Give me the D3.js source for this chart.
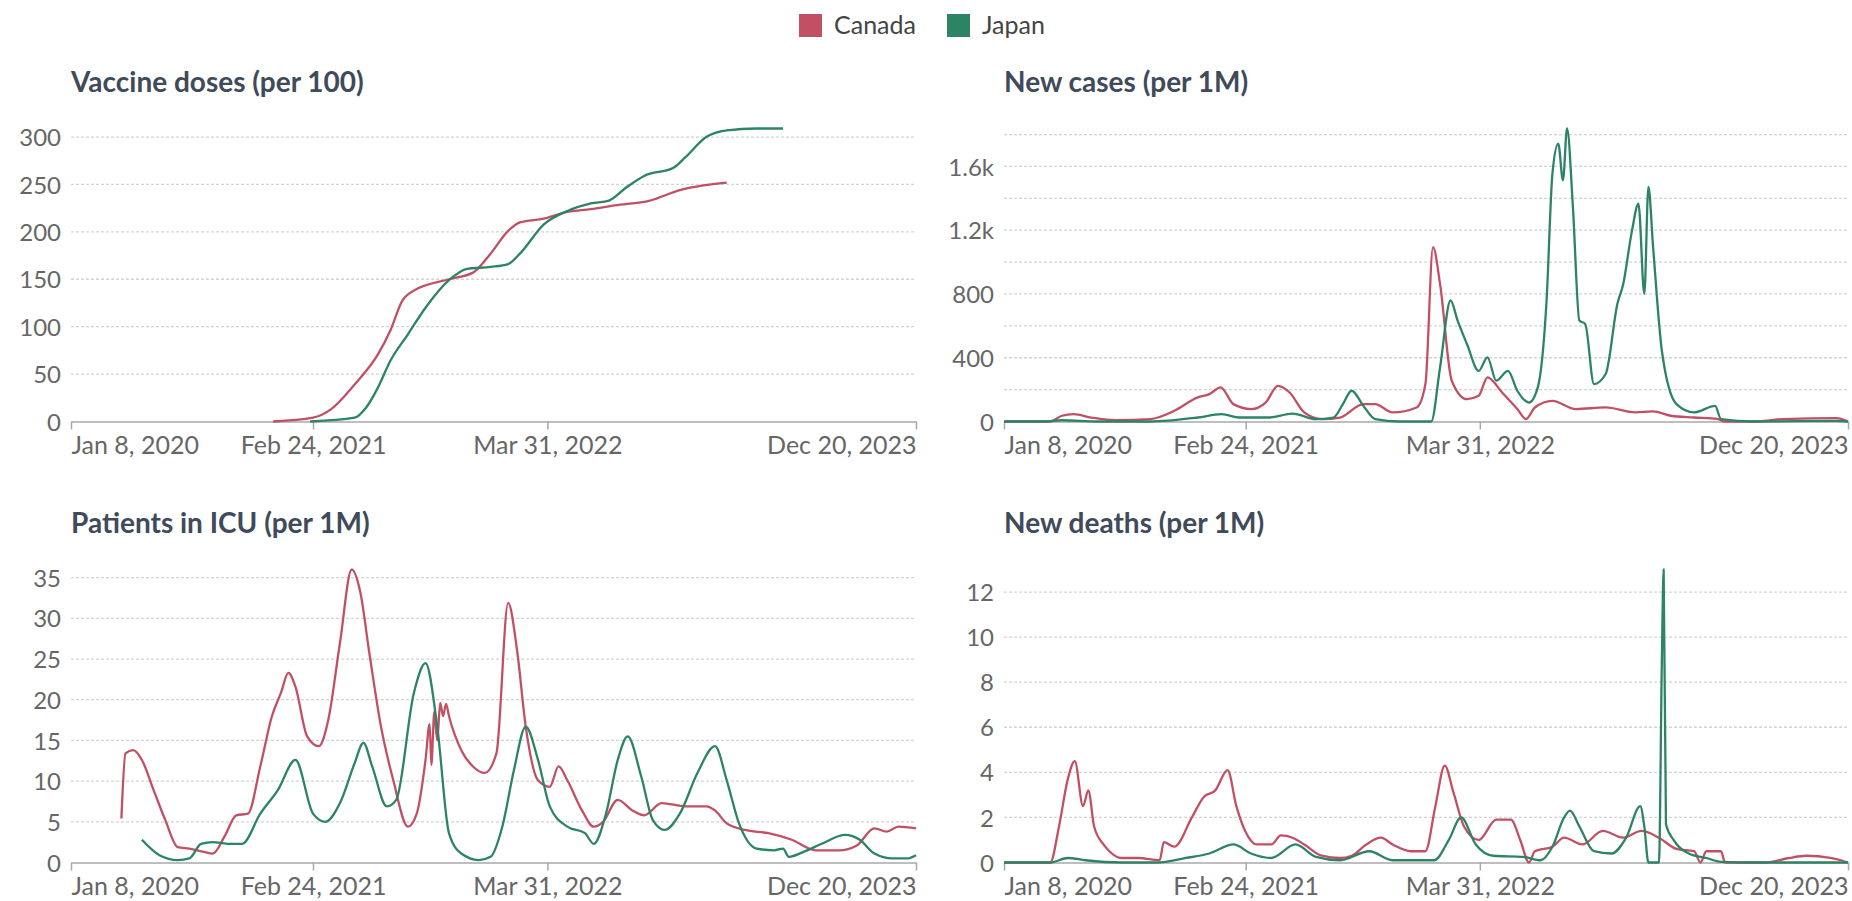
<!DOCTYPE html>
<html>
<head>
<meta charset="utf-8">
<script src="https://cdn.jsdelivr.net/npm/d3@7"></script>
<style>
  body { margin: 0; background: #fff; }
  svg { font-family: Lato, "Noto Sans", sans-serif; }
  .grid line { stroke: #d4d4d4; stroke-width: 1.3; stroke-dasharray: 3,2; }
  .ylab { fill: #666; font-size: 24px; }
  .xlab { fill: #666; font-size: 25px; }
  .title { fill: #3f4a5a; font-size: 28px; font-weight: 700; }
</style>
</head>
<body>
<div id="chart"></div>
<script>
var svgWidth = 1852;
var svgHeight = 901;

// x values are days since Jan 8, 2020
var startDate = new Date(2020, 0, 8);
var countries = ["Canada", "Japan"];
var colors = ["#c15065", "#2c8465"];

var dateTicks = ["2020-01-08", "2021-02-24", "2022-03-31", "2023-12-20"];
var dateTickLabels = ["Jan 8, 2020", "Feb 24, 2021", "Mar 31, 2022", "Dec 20, 2023"];

var vaccineTicks = [0, 50, 100, 150, 200, 250, 300];
var vaccineTickLabels = ["0", "50", "100", "150", "200", "250", "300"];
var casesTicks = [0, 200, 400, 600, 800, 1000, 1200, 1400, 1600, 1800];
var casesTickLabels = ["0", "", "400", "", "800", "", "1.2k", "", "1.6k", ""];
var icuTicks = [0, 5, 10, 15, 20, 25, 30, 35];
var icuTickLabels = ["0", "5", "10", "15", "20", "25", "30", "35"];
var deathsTicks = [0, 2, 4, 6, 8, 10, 12];
var deathsTickLabels = ["0", "2", "4", "6", "8", "10", "12"];

var canadaVaccine = [[345,0],[413,4],[444,13],[484,39],[524,71],[545,96],[565,127],[585,138],[645,150],
  [686,157],[716,177],[746,201],[766,210],[807,214],[847,221],[887,224],[928,228],[988,233],[1039,244],
  [1079,249],[1119,252]];
var japanVaccine = [[408,0],[484,4],[504,15],[524,36],[545,64],[575,92],[605,120],[645,149],[676,161],
  [716,163],[746,166],[766,177],[807,208],[847,222],[887,230],[918,233],[948,247],[978,259],[1029,268],
  [1049,279],[1084,300],[1119,307],[1170,309],[1215,309]];

var canadaCases = [[0,0],[79,0],[99,36],[119,46],[149,25],[190,8],[250,15],[291,67],[331,151],[351,172],
  [370,214],[392,109],[422,78],[447,119],[468,224],[488,182],[513,57],[543,15],[574,25],[614,109],[634,109],
  [664,57],[705,88],[720,235],[733,1094],[745,863],[765,256],[791,140],[811,161],[826,277],[851,182],
  [877,78],[892,15],[907,88],[937,130],[977,78],[1028,88],[1078,57],[1109,63],[1139,36],[1179,25],
  [1220,15],[1230,0],[1280,0],[1331,15],[1422,21],[1442,0]];
var japanCases = [[0,0],[69,0],[99,8],[160,0],[250,0],[331,25],[372,46],[402,25],[452,25],[493,50],
  [533,15],[563,25],[579,109],[594,193],[614,98],[634,15],[675,0],[730,0],[745,339],[763,759],[775,633],
  [791,486],[811,318],[826,402],[841,256],[861,318],[877,193],[897,119],[912,214],[927,759],[937,1555],
  [947,1743],[955,1513],[962,1838],[972,1345],[983,633],[993,612],[1008,235],[1028,298],[1048,738],
  [1058,863],[1073,1199],[1084,1366],[1094,800],[1101,1471],[1109,1094],[1124,444],[1149,109],[1179,57],
  [1215,98],[1225,15],[1280,0],[1422,4],[1442,0]];

var canadaIcu = [[86,5.4],[93,13.4],[106,13.8],[121,12.6],[141,8.9],[161,5.2],[182,1.9],[202,1.7],
  [227,1.3],[242,1.1],[262,3.2],[282,5.8],[302,6.0],[323,11.8],[343,18.0],[358,20.8],[371,23.3],[383,21.6],
  [403,15.5],[423,14.3],[439,17.5],[459,27.0],[479,36.0],[494,33.1],[509,25.8],[529,16.7],[550,10.1],
  [575,4.4],[590,6.0],[605,12.6],[612,17],[615,12],[620,18.5],[625,15],[630,19.6],[635,18],[640,19.5],
  [645,18.0],[666,13.8],[686,11.8],[706,11.0],[726,13.4],[746,31.9],[761,26.2],[776,16.7],[797,10.1],
  [817,9.3],[832,11.8],[847,10.1],[872,6.4],[892,4.4],[908,5.0],[933,7.7],[958,6.4],[978,5.8],[1008,7.3],
  [1049,6.9],[1084,6.9],[1099,6.4],[1119,4.8],[1150,4.0],[1190,3.6],[1230,2.8],[1271,1.5],[1311,1.5],
  [1341,2.1],[1371,4.2],[1392,3.8],[1412,4.4],[1442,4.2]];
var japanIcu = [[121,2.8],[151,0.9],[182,0.3],[202,0.5],[222,2.3],[242,2.5],[267,2.3],[292,2.3],[323,6.0],
  [353,8.9],[383,12.6],[413,6.0],[434,5.0],[459,7.3],[484,12.2],[499,14.7],[514,11.8],[539,6.9],[555,7.7],
  [585,20.8],[605,24.5],[625,16.7],[645,3.6],[666,1.1],[696,0.3],[716,0.7],[736,4.4],[756,11.4],[776,16.7],
  [797,12.6],[817,6.9],[847,4.4],[877,3.6],[892,2.3],[913,6.0],[933,12.6],[950,15.5],[973,10.6],[993,5.2],
  [1013,4.0],[1039,6.0],[1069,11.0],[1099,14.3],[1119,10.1],[1140,4.8],[1170,1.7],[1200,1.5],[1215,1.7],
  [1225,0.7],[1250,1.3],[1281,2.3],[1321,3.4],[1346,2.8],[1371,1.1],[1402,0.5],[1427,0.5],[1442,0.9]];

var canadaDeaths = [[0,0],[79,0],[94,1.6],[109,3.7],[121,4.5],[135,2.5],[144,3.2],[154,1.6],[170,0.8],
  [180,0.5],[200,0.2],[230,0.2],[266,0.1],[273,0.9],[291,0.7],[321,2.0],[341,2.9],[361,3.2],[382,4.1],
  [397,2.5],[412,1.4],[432,0.8],[457,0.8],[473,1.2],[493,1.1],[513,0.8],[543,0.3],[574,0.2],[594,0.3],
  [619,0.8],[644,1.1],[664,0.8],[695,0.5],[720,0.5],[737,2.5],[753,4.3],[768,3.1],[786,1.6],[811,1.0],
  [841,1.9],[866,1.9],[882,1.0],[897,0],[907,0.5],[937,0.7],[957,1.1],[988,0.8],[1023,1.4],[1058,1.1],
  [1089,1.4],[1119,1.1],[1149,0.6],[1179,0.5],[1190,0],[1200,0.5],[1225,0.5],[1232,0],[1301,0],[1341,0.2],
  [1371,0.3],[1412,0.2],[1430,0.1],[1442,0]];
var japanDeaths = [[0,0],[79,0],[109,0.2],[139,0.1],[200,0],[261,0],[311,0.2],[351,0.4],[392,0.8],
  [422,0.4],[457,0.2],[498,0.8],[533,0.25],[574,0.1],[624,0.5],[664,0.1],[735,0.1],[760,1.0],[781,2.0],
  [806,0.8],[836,0.3],[887,0.25],[917,0.1],[937,0.7],[957,2.0],[967,2.3],[983,1.6],[1008,0.5],[1038,0.4],
  [1063,1.1],[1087,2.5],[1094,1.6],[1101,0],[1119,0],[1124,9.0],[1127,13.0],[1131,1.7],[1144,1.0],
  [1170,0.4],[1200,0.2],[1225,0.03],[1280,0],[1442,0]];

var panels = [
  {title: "Vaccine doses (per 100)", series: [canadaVaccine, japanVaccine], ticks: vaccineTicks,
   labels: vaccineTickLabels, left: 71, right: 916, base: 421.5, top: 128.5},
  {title: "New cases (per 1M)", series: [canadaCases, japanCases], ticks: casesTicks,
   labels: casesTickLabels, left: 1004, right: 1848, base: 421.5, top: 128.5},
  {title: "Patients in ICU (per 1M)", series: [canadaIcu, japanIcu], ticks: icuTicks,
   labels: icuTickLabels, left: 71, right: 916, base: 862.5, top: 569.5},
  {title: "New deaths (per 1M)", series: [canadaDeaths, japanDeaths], ticks: deathsTicks,
   labels: deathsTickLabels, left: 1004, right: 1848, base: 862.5, top: 569.5}
];

var svg = d3.select("#chart")
  .append("svg")
  .attr("width", svgWidth)
  .attr("height", svgHeight);

var parseDate = d3.timeParse("%Y-%m-%d");
var toDate = function(d) { return d3.timeDay.offset(startDate, d); };

// legend
var legend = svg.append("g");
var legendX = [799, 947];
countries.forEach(function(c, i) {
  legend.append("rect")
    .attr("x", legendX[i]).attr("y", 14)
    .attr("width", 23).attr("height", 23)
    .attr("fill", colors[i]);
  legend.append("text")
    .attr("x", legendX[i] + 35).attr("y", 34)
    .attr("fill", "#444")
    .attr("font-size", "25px")
    .text(c);
});

panels.forEach(function(p) {
  var g = svg.append("g");

  var xScale = d3.scaleTime()
    .domain([startDate, parseDate(dateTicks[dateTicks.length - 1])])
    .range([p.left, p.right]);

  var yMax = d3.max(p.series, function(s) { return d3.max(s, function(d) { return d[1]; }); });
  var yScale = d3.scaleLinear()
    .domain([0, yMax])
    .range([p.base, p.top]);

  // title
  g.append("text")
    .attr("class", "title")
    .attr("x", p.left)
    .attr("y", p.base - 330)
    .text(p.title);

  // gridlines (skip zero, the axis sits there)
  g.append("g")
    .attr("class", "grid")
    .selectAll("line")
    .data(p.ticks.filter(function(t) { return t > 0; }))
    .enter()
    .append("line")
    .attr("x1", p.left)
    .attr("x2", p.right)
    .attr("y1", function(d) { return yScale(d); })
    .attr("y2", function(d) { return yScale(d); });

  // y labels
  var leftAxis = d3.axisLeft(yScale)
    .tickValues(p.ticks)
    .tickSize(0)
    .tickPadding(10)
    .tickFormat(function(d, i) { return p.labels[i]; });
  var yAxisG = g.append("g")
    .attr("transform", `translate(${p.left}, 0)`)
    .call(leftAxis);
  yAxisG.select(".domain").remove();
  yAxisG.attr("font-size", null).attr("font-family", null);
  yAxisG.selectAll("text")
    .attr("class", "ylab")
    .attr("dy", "0.36em");

  // x axis
  var bottomAxis = d3.axisBottom(xScale)
    .tickValues(dateTicks.map(parseDate))
    .tickSize(8)
    .tickSizeOuter(0)
    .tickPadding(7)
    .tickFormat(function(d, i) { return dateTickLabels[i]; });
  var xAxisG = g.append("g")
    .attr("transform", `translate(0, ${p.base})`)
    .call(bottomAxis);
  xAxisG.attr("font-size", null).attr("font-family", null);
  xAxisG.select(".domain").attr("stroke", "#a8a8a8").attr("stroke-width", 1.5);
  xAxisG.selectAll(".tick line").attr("stroke", "#a8a8a8").attr("stroke-width", 1.5);
  xAxisG.selectAll(".tick text")
    .attr("class", "xlab")
    .attr("dy", "0.71em")
    .attr("text-anchor", function(d, i) {
      return i === 0 ? "start" : (i === dateTicks.length - 1 ? "end" : "middle");
    });

  // lines
  var line = d3.line()
    .curve(d3.curveMonotoneX)
    .x(function(d) { return xScale(toDate(d[0])); })
    .y(function(d) { return yScale(d[1]); });

  p.series.forEach(function(s, i) {
    g.append("path")
      .datum(s)
      .attr("fill", "none")
      .attr("stroke", colors[i])
      .attr("stroke-width", 2.3)
      .attr("stroke-linejoin", "round")
      .attr("d", line);
  });
});
</script>
</body>
</html>
